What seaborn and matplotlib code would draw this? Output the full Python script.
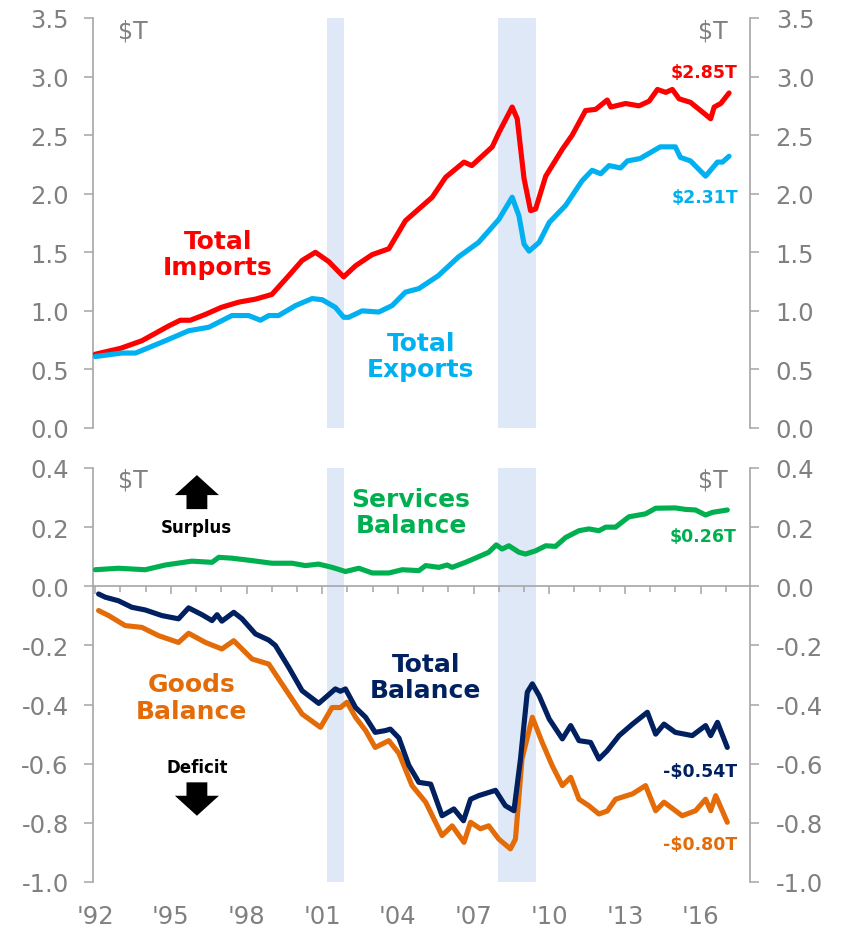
import numpy as np
import pandas as pd
import matplotlib
matplotlib.use("Agg")
import matplotlib.pyplot as plt
import seaborn as sns
from matplotlib.ticker import FixedLocator, FixedFormatter

# ---------------- data ----------------
imports_years = [1992.0, 1993.0, 1993.85, 1994.9, 1995.37, 1995.77, 1996.37, 1997.0, 1997.7, 1998.35,
                 1999.0, 1999.67, 2000.2, 2000.73, 2001.26, 2001.85, 2002.32, 2002.98, 2003.64, 2004.3,
                 2004.83, 2005.36, 2005.89, 2006.62, 2006.93, 2007.74, 2008.0, 2008.53, 2008.73, 2009.0,
                 2009.26, 2009.46, 2009.86, 2010.52, 2010.91, 2011.44, 2011.84, 2012.3, 2012.44, 2013.03,
                 2013.56, 2013.96, 2014.29, 2014.62, 2014.88, 2015.15, 2015.6, 2016.0, 2016.4, 2016.54,
                 2016.8, 2017.13]
imports_vals = [0.63, 0.68, 0.745, 0.87, 0.92, 0.92, 0.97, 1.03, 1.075, 1.10,
                1.14, 1.30, 1.43, 1.50, 1.42, 1.29, 1.385, 1.48, 1.53, 1.77,
                1.87, 1.97, 2.14, 2.27, 2.24, 2.40, 2.52, 2.74, 2.64, 2.13,
                1.855, 1.87, 2.15, 2.38, 2.50, 2.71, 2.72, 2.80, 2.74, 2.77,
                2.75, 2.79, 2.89, 2.865, 2.89, 2.81, 2.78, 2.71, 2.64, 2.74,
                2.77, 2.86]

exports_years = [1992.0, 1993.06, 1993.6, 1994.05, 1994.78, 1995.7, 1996.5, 1997.42, 1998.08, 1998.55,
                 1998.88, 1999.27, 1999.94, 2000.6, 2001.0, 2001.52, 2001.85, 2002.05, 2002.58, 2003.24,
                 2003.77, 2004.3, 2004.83, 2005.6, 2006.4, 2007.2, 2008.0, 2008.53, 2008.8, 2009.0,
                 2009.2, 2009.6, 2010.0, 2010.65, 2011.3, 2011.7, 2012.04, 2012.37, 2012.83, 2013.1,
                 2013.6, 2014.0, 2014.4, 2015.0, 2015.2, 2015.6, 2016.2, 2016.67, 2016.87, 2017.13]
exports_vals = [0.61, 0.64, 0.64, 0.68, 0.745, 0.83, 0.86, 0.96, 0.96, 0.92,
                0.96, 0.96, 1.045, 1.105, 1.095, 1.03, 0.945, 0.945, 1.00, 0.99,
                1.045, 1.16, 1.19, 1.30, 1.46, 1.585, 1.78, 1.97, 1.81, 1.57,
                1.51, 1.585, 1.755, 1.90, 2.11, 2.20, 2.17, 2.24, 2.22, 2.28,
                2.30, 2.35, 2.40, 2.40, 2.31, 2.28, 2.15, 2.27, 2.27, 2.32]

services_years = [1992.0, 1992.92, 1993.98, 1994.78, 1995.83, 1996.63, 1996.9, 1997.42, 1998.2, 1999.0,
                  1999.8, 2000.33, 2000.86, 2001.39, 2001.92, 2002.45, 2002.98, 2003.64, 2004.17, 2004.83,
                  2005.1, 2005.62, 2005.95, 2006.15, 2006.68, 2007.2, 2007.6, 2007.9, 2008.13, 2008.4,
                  2008.8, 2009.06, 2009.46, 2009.86, 2010.25, 2010.65, 2011.18, 2011.57, 2011.97, 2012.24,
                  2012.63, 2013.16, 2013.82, 2014.22, 2015.0, 2015.4, 2015.8, 2016.2, 2016.47, 2017.06]
services_vals = [0.056, 0.061, 0.056, 0.072, 0.085, 0.081, 0.098, 0.095, 0.087, 0.078,
                 0.078, 0.07, 0.075, 0.064, 0.05, 0.061, 0.045, 0.045, 0.056, 0.053,
                 0.07, 0.064, 0.072, 0.064, 0.081, 0.10, 0.115, 0.14, 0.126, 0.137,
                 0.115, 0.109, 0.12, 0.137, 0.135, 0.165, 0.188, 0.194, 0.188, 0.20,
                 0.20, 0.235, 0.245, 0.264, 0.265, 0.26, 0.258, 0.241, 0.25, 0.258]

total_years = [1992.13, 1992.4, 1992.92, 1993.45, 1993.98, 1994.64, 1995.3, 1995.7, 1996.23, 1996.63,
               1996.83, 1997.02, 1997.49, 1997.82, 1998.35, 1998.88, 1999.14, 1999.67, 2000.2, 2000.86,
               2001.52, 2001.72, 2001.92, 2002.32, 2002.72, 2003.1, 2003.5, 2003.7, 2004.04, 2004.43,
               2004.83, 2005.3, 2005.75, 2006.22, 2006.6, 2006.88, 2007.2, 2007.87, 2008.26, 2008.6,
               2008.86, 2009.13, 2009.33, 2009.6, 2010.0, 2010.52, 2010.85, 2011.18, 2011.64, 2011.97,
               2012.3, 2012.77, 2013.3, 2013.89, 2014.22, 2014.55, 2015.0, 2015.67, 2016.2, 2016.4,
               2016.67, 2017.06]
total_vals = [-0.026, -0.037, -0.049, -0.071, -0.08, -0.099, -0.11, -0.073, -0.096, -0.116,
              -0.096, -0.118, -0.088, -0.11, -0.161, -0.182, -0.20, -0.274, -0.353, -0.396,
              -0.347, -0.355, -0.347, -0.41, -0.443, -0.494, -0.488, -0.483, -0.513, -0.605,
              -0.663, -0.669, -0.776, -0.753, -0.793, -0.72, -0.708, -0.69, -0.742, -0.759,
              -0.584, -0.358, -0.33, -0.37, -0.449, -0.516, -0.471, -0.522, -0.528, -0.584,
              -0.556, -0.505, -0.466, -0.426, -0.50, -0.466, -0.494, -0.505, -0.471, -0.505,
              -0.46, -0.545]

goods_years = [1992.13, 1992.53, 1993.19, 1993.85, 1994.51, 1995.3, 1995.7, 1996.37, 1997.02, 1997.49,
               1998.22, 1998.88, 1999.4, 2000.2, 2000.93, 2001.39, 2001.72, 2001.98, 2002.32, 2002.72,
               2003.1, 2003.64, 2004.04, 2004.56, 2005.1, 2005.75, 2006.15, 2006.62, 2006.88, 2007.27,
               2007.6, 2008.0, 2008.46, 2008.66, 2008.92, 2009.33, 2009.72, 2010.12, 2010.52, 2010.85,
               2011.18, 2011.57, 2011.97, 2012.3, 2012.63, 2013.3, 2013.82, 2014.22, 2014.55, 2015.27,
               2015.8, 2016.2, 2016.4, 2016.6, 2017.06]
goods_vals = [-0.082, -0.099, -0.133, -0.139, -0.167, -0.19, -0.159, -0.19, -0.212, -0.184,
              -0.246, -0.263, -0.33, -0.432, -0.477, -0.41, -0.41, -0.392, -0.443, -0.488,
              -0.545, -0.522, -0.565, -0.674, -0.73, -0.843, -0.81, -0.866, -0.798, -0.82,
              -0.81, -0.855, -0.888, -0.855, -0.584, -0.443, -0.528, -0.607, -0.674, -0.646,
              -0.72, -0.742, -0.77, -0.76, -0.72, -0.702, -0.674, -0.759, -0.73, -0.776,
              -0.759, -0.72, -0.759, -0.708, -0.798]

recession_starts = [2001.17, 2007.95]
recession_ends = [2001.85, 2009.47]

top_ticks = [0.0, 0.5, 1.0, 1.5, 2.0, 2.5, 3.0, 3.5]
top_tick_labels = ["0.0", "0.5", "1.0", "1.5", "2.0", "2.5", "3.0", "3.5"]
bot_ticks = [-1.0, -0.8, -0.6, -0.4, -0.2, 0.0, 0.2, 0.4]
bot_tick_labels = ["-1.0", "-0.8", "-0.6", "-0.4", "-0.2", "0.0", "0.2", "0.4"]
year_ticks = [1992, 1995, 1998, 2001, 2004, 2007, 2010, 2013, 2016]
year_labels = ["'92", "'95", "'98", "'01", "'04", "'07", "'10", "'13", "'16"]
minor_years = list(range(1992, 2018))

# ---------------- style ----------------
sns.set_style("white")
plt.rcParams["font.family"] = ["DejaVu Sans"]
plt.rcParams["axes.unicode_minus"] = False

RED = "#FF0000"
BLUE = "#00B0F0"
GREEN = "#00B050"
NAVY = "#002060"
ORANGE = "#E36C09"
GRID_GRAY = "#A6A6A6"
TXT_GRAY = "#808080"
BAND = "#DFE8F6"
TICK_FS = 17.5
LW = 3.7

fig = plt.figure(figsize=(8.44, 9.29), dpi=100)
axt = fig.add_axes([93 / 844, 1 - 429 / 929, 657 / 844, 410 / 929])
axb = fig.add_axes([93 / 844, 1 - 883 / 929, 657 / 844, 414 / 929])

XMIN, XMAX = 1991.91, 2017.96

def style_y(ax, ticks, labels, ylim):
    ax.set_xlim(XMIN, XMAX)
    ax.set_ylim(*ylim)
    ax.yaxis.set_major_locator(FixedLocator(ticks))
    ax.yaxis.set_major_formatter(FixedFormatter(labels))
    for s in ["top", "bottom", "right"]:
        ax.spines[s].set_visible(False)
    ax.spines["left"].set_color(GRID_GRAY)
    ax.spines["left"].set_linewidth(1.2)
    ax.tick_params(axis="y", colors=GRID_GRAY, labelcolor=TXT_GRAY, labelsize=TICK_FS,
                   length=6.5, width=1.1, pad=11, direction="out", left=True)
    ax.set_xlabel("")
    ax.set_ylabel("")
    twin = ax.twinx()
    twin.set_ylim(*ylim)
    twin.yaxis.set_major_locator(FixedLocator(ticks))
    twin.yaxis.set_major_formatter(FixedFormatter(labels))
    for s in ["top", "bottom", "left"]:
        twin.spines[s].set_visible(False)
    twin.spines["right"].set_color(GRID_GRAY)
    twin.spines["right"].set_linewidth(1.2)
    twin.tick_params(axis="y", colors=GRID_GRAY, labelcolor=TXT_GRAY, labelsize=TICK_FS,
                     length=6.5, width=1.1, pad=12, direction="out", right=True)
    return twin

# ---------------- top panel ----------------
for s0, s1 in zip(recession_starts, recession_ends):
    axt.axvspan(s0, s1, color=BAND, zorder=0, lw=0)
sns.lineplot(x=imports_years, y=imports_vals, ax=axt, color=RED, linewidth=LW,
             solid_capstyle="round", solid_joinstyle="round", zorder=3)
sns.lineplot(x=exports_years, y=exports_vals, ax=axt, color=BLUE, linewidth=LW,
             solid_capstyle="round", solid_joinstyle="round", zorder=3)
style_y(axt, top_ticks, top_tick_labels, (0, 3.5))
axt.set_xticks([])
axt.tick_params(axis="x", bottom=False, labelbottom=False)

axt.text(0.038, 1.0, "$T", transform=axt.transAxes, ha="left", va="top",
         fontsize=17, color=TXT_GRAY)
axt.text(0.9665, 1.0, "$T", transform=axt.transAxes, ha="right", va="top",
         fontsize=17, color=TXT_GRAY)
axt.text(1996.87, 1.485, "Total\nImports", ha="center", va="center", fontsize=18,
         fontweight="bold", color=RED, linespacing=1.15)
axt.text(2004.91, 0.615, "Total\nExports", ha="center", va="center", fontsize=18,
         fontweight="bold", color=BLUE, linespacing=1.15)
axt.text(2017.48, 3.035, "$2.85T", ha="right", va="center", fontsize=12.5,
         fontweight="bold", color=RED)
axt.text(2017.48, 1.968, "$2.31T", ha="right", va="center", fontsize=12.5,
         fontweight="bold", color=BLUE)

# ---------------- bottom panel ----------------
for s0, s1 in zip(recession_starts, recession_ends):
    axb.axvspan(s0, s1, color=BAND, zorder=0, lw=0)
sns.lineplot(x=services_years, y=services_vals, ax=axb, color=GREEN, linewidth=LW,
             solid_capstyle="round", solid_joinstyle="round", zorder=3)
sns.lineplot(x=goods_years, y=goods_vals, ax=axb, color=ORANGE, linewidth=LW,
             solid_capstyle="round", solid_joinstyle="round", zorder=3)
sns.lineplot(x=total_years, y=total_vals, ax=axb, color=NAVY, linewidth=LW,
             solid_capstyle="round", solid_joinstyle="round", zorder=4)
style_y(axb, bot_ticks, bot_tick_labels, (-1.0, 0.4))

# zero line with yearly ticks
axb.spines["bottom"].set_visible(True)
axb.spines["bottom"].set_position(("data", 0))
axb.spines["bottom"].set_color(GRID_GRAY)
axb.spines["bottom"].set_linewidth(1.2)
axb.xaxis.set_major_locator(FixedLocator(year_ticks))
axb.xaxis.set_minor_locator(FixedLocator(minor_years))
axb.tick_params(axis="x", which="major", bottom=True, labelbottom=False, length=6,
                width=1.1, color=GRID_GRAY, direction="out")
axb.tick_params(axis="x", which="minor", bottom=True, length=4.5, width=1.1,
                color=GRID_GRAY, direction="out")

sec = axb.secondary_xaxis(0.0)
sec.xaxis.set_major_locator(FixedLocator(year_ticks))
sec.xaxis.set_major_formatter(FixedFormatter(year_labels))
sec.xaxis.set_minor_locator(FixedLocator([]))
sec.spines["bottom"].set_visible(False)
sec.tick_params(axis="x", length=0, pad=16, labelsize=TICK_FS, labelcolor=TXT_GRAY)

axb.text(0.038, 1.0, "$T", transform=axb.transAxes, ha="left", va="top",
         fontsize=17, color=TXT_GRAY)
axb.text(0.9665, 1.0, "$T", transform=axb.transAxes, ha="right", va="top",
         fontsize=17, color=TXT_GRAY)
axb.text(2004.52, 0.251, "Services\nBalance", ha="center", va="center", fontsize=18,
         fontweight="bold", color=GREEN, linespacing=1.15)
axb.text(2005.11, -0.307, "Total\nBalance", ha="center", va="center", fontsize=18,
         fontweight="bold", color=NAVY, linespacing=1.15)
axb.text(1995.83, -0.375, "Goods\nBalance", ha="center", va="center", fontsize=18,
         fontweight="bold", color=ORANGE, linespacing=1.15)
axb.text(2017.44, 0.169, "$0.26T", ha="right", va="center", fontsize=12.5,
         fontweight="bold", color=GREEN)
axb.text(2017.44, -0.624, "-$0.54T", ha="right", va="center", fontsize=12.5,
         fontweight="bold", color=NAVY)
axb.text(2017.44, -0.871, "-$0.80T", ha="right", va="center", fontsize=12.5,
         fontweight="bold", color=ORANGE)
axb.text(1995.99, 0.201, "Surplus", ha="center", va="center", fontsize=12,
         fontweight="bold", color="black")
axb.text(1996.03, -0.61, "Deficit", ha="center", va="center", fontsize=12,
         fontweight="bold", color="black")

arrow_style = "simple,head_length=14.4,head_width=31.7,tail_width=15"
axb.annotate("", xy=(1996.03, 0.376), xytext=(1996.03, 0.261),
             arrowprops=dict(arrowstyle=arrow_style, mutation_scale=1, color="black",
                             shrinkA=0, shrinkB=0, lw=0))
axb.annotate("", xy=(1996.03, -0.776), xytext=(1996.03, -0.663),
             arrowprops=dict(arrowstyle=arrow_style, mutation_scale=1, color="black",
                             shrinkA=0, shrinkB=0, lw=0))

fig.savefig("out.png", dpi=100)
